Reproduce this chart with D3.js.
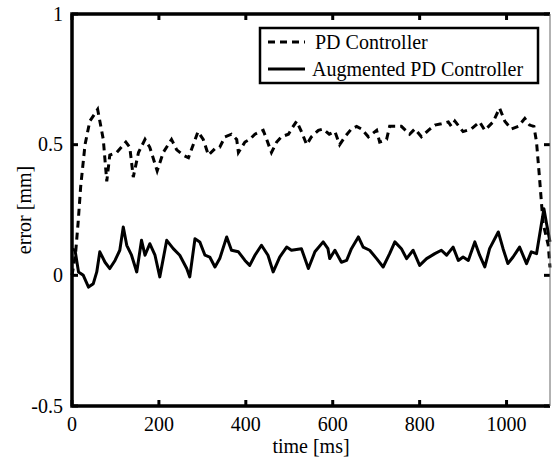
<!DOCTYPE html>
<html>
<head>
<meta charset="utf-8">
<script src="https://cdn.jsdelivr.net/npm/d3@7"></script>
<style>
  body { margin: 0; background: #fff; }
  text { font-family: "Liberation Serif", "Times New Roman", serif; fill: #000; }
</style>
</head>
<body>
<svg id="chart" width="552" height="461"></svg>
<script>
// [time ms, error mm]
const pdSeries = [
  [0, 0.0], [8, 0.08], [14, 0.2], [20, 0.34], [30, 0.5], [41, 0.59], [59, 0.635],
  [72, 0.52], [80, 0.36], [87, 0.46], [103, 0.47], [124, 0.51], [133, 0.49],
  [141, 0.376], [153, 0.47], [168, 0.52], [179, 0.49], [196, 0.40], [210, 0.47],
  [229, 0.52], [241, 0.48], [256, 0.46], [268, 0.45], [279, 0.50], [290, 0.55],
  [302, 0.52], [314, 0.46], [329, 0.485], [340, 0.49], [352, 0.53], [367, 0.54],
  [379, 0.52], [383, 0.47], [398, 0.51], [409, 0.52], [421, 0.54], [440, 0.555],
  [448, 0.52], [459, 0.47], [471, 0.51], [482, 0.53], [498, 0.54], [509, 0.57],
  [517, 0.59], [528, 0.55], [540, 0.50], [551, 0.53], [567, 0.555], [578, 0.56],
  [592, 0.54], [605, 0.55], [616, 0.50], [628, 0.53], [643, 0.56], [655, 0.57],
  [666, 0.56], [682, 0.53], [701, 0.555], [708, 0.51], [724, 0.52], [731, 0.57],
  [743, 0.57], [758, 0.57], [777, 0.54], [789, 0.56], [804, 0.53], [820, 0.555],
  [835, 0.575], [850, 0.58], [866, 0.587], [873, 0.57], [881, 0.59], [900, 0.55],
  [919, 0.56], [938, 0.587], [950, 0.555], [969, 0.587], [984, 0.64], [996, 0.59],
  [1011, 0.56], [1027, 0.57], [1042, 0.60], [1053, 0.575], [1063, 0.57],
  [1069, 0.51], [1076, 0.37], [1084, 0.20], [1096, 0.115], [1100, 0.03]
];

const augSeries = [
  [0, 0.1], [7, 0.096], [15, 0.013], [26, 0.0], [38, -0.045], [49, -0.032],
  [57, 0.013], [64, 0.09], [76, 0.05], [87, 0.026], [99, 0.057], [110, 0.096],
  [118, 0.185], [126, 0.115], [137, 0.077], [149, 0.013], [160, 0.134], [168, 0.077],
  [179, 0.121], [191, 0.077], [202, -0.006], [218, 0.134], [233, 0.102], [248, 0.077],
  [264, 0.026], [271, -0.006], [283, 0.14], [294, 0.128], [306, 0.077], [317, 0.07],
  [329, 0.032], [340, 0.064], [356, 0.147], [367, 0.096], [383, 0.09], [398, 0.057],
  [409, 0.038], [421, 0.077], [436, 0.115], [451, 0.077], [463, 0.013], [478, 0.07],
  [494, 0.108], [505, 0.096], [528, 0.102], [544, 0.026], [559, 0.09], [578, 0.128],
  [589, 0.102], [593, 0.064], [605, 0.096], [620, 0.05], [632, 0.057], [643, 0.102],
  [659, 0.147], [670, 0.108], [685, 0.096], [701, 0.064], [716, 0.032], [731, 0.083],
  [743, 0.128], [758, 0.102], [770, 0.064], [785, 0.096], [800, 0.038], [816, 0.064],
  [835, 0.083], [850, 0.096], [862, 0.077], [877, 0.108], [889, 0.057], [900, 0.07],
  [912, 0.057], [927, 0.128], [938, 0.077], [950, 0.032], [961, 0.102], [981, 0.166],
  [992, 0.102], [1003, 0.045], [1015, 0.07], [1030, 0.108], [1046, 0.045], [1057, 0.09],
  [1069, 0.083], [1086, 0.255], [1092, 0.198], [1100, 0.128]
];

const xTicks = [0, 200, 400, 600, 800, 1000];
const yTicks = [-0.5, 0, 0.5, 1];
const yTickLabels = ['-0.5', '0', '0.5', '1'];
const legendLabels = ['PD Controller', 'Augmented PD Controller'];

const svg = d3.select('#chart');
const plotLeft = 72, plotRight = 550, plotTop = 14, plotBottom = 406;

const x = d3.scaleLinear().domain([0, 1100]).range([plotLeft, plotRight]);
const y = d3.scaleLinear().domain([-0.5, 1]).range([plotBottom, plotTop]);

const line = d3.line()
  .x(d => x(d[0]))
  .y(d => y(d[1]));

// data lines
svg.append('path')
  .datum(pdSeries)
  .attr('d', line)
  .attr('fill', 'none')
  .attr('stroke', '#000')
  .attr('stroke-width', 3)
  .attr('stroke-dasharray', '7,5');

svg.append('path')
  .datum(augSeries)
  .attr('d', line)
  .attr('fill', 'none')
  .attr('stroke', '#000')
  .attr('stroke-width', 3)
  .attr('stroke-linejoin', 'round');

// ticks (inside the frame)
const tickLen = 6;
const ticks = svg.append('g').attr('stroke', '#000').attr('stroke-width', 3);
xTicks.forEach(t => {
  ticks.append('line').attr('x1', x(t)).attr('x2', x(t)).attr('y1', plotBottom).attr('y2', plotBottom - tickLen);
  ticks.append('line').attr('x1', x(t)).attr('x2', x(t)).attr('y1', plotTop).attr('y2', plotTop + tickLen);
});
yTicks.forEach(v => {
  ticks.append('line').attr('x1', plotLeft).attr('x2', plotLeft + tickLen).attr('y1', y(v)).attr('y2', y(v));
  ticks.append('line').attr('x1', plotRight).attr('x2', plotRight - tickLen).attr('y1', y(v)).attr('y2', y(v));
});

// frame: thick left/top/bottom, thin right
svg.append('path')
  .attr('d', `M${plotRight},${plotTop}H${plotLeft}V${plotBottom}H${plotRight}`)
  .attr('fill', 'none')
  .attr('stroke', '#000')
  .attr('stroke-width', 3.5);
svg.append('line')
  .attr('x1', plotRight).attr('x2', plotRight).attr('y1', plotTop).attr('y2', plotBottom)
  .attr('stroke', '#666').attr('stroke-width', 1);

// tick labels
svg.append('g')
  .selectAll('text')
  .data(xTicks)
  .join('text')
  .attr('x', d => x(d))
  .attr('y', plotBottom + 25)
  .attr('text-anchor', 'middle')
  .attr('font-size', 20)
  .text(d => d);

svg.append('g')
  .selectAll('text')
  .data(yTicks)
  .join('text')
  .attr('x', plotLeft - 9)
  .attr('y', d => y(d))
  .attr('dy', '0.33em')
  .attr('text-anchor', 'end')
  .attr('font-size', 20)
  .text((d, i) => yTickLabels[i]);

// axis titles
svg.append('text')
  .attr('x', (plotLeft + plotRight) / 2)
  .attr('y', 453)
  .attr('text-anchor', 'middle')
  .attr('font-size', 20)
  .text('time [ms]');

svg.append('text')
  .attr('transform', `translate(31,${(plotTop + plotBottom) / 2}) rotate(-90)`)
  .attr('text-anchor', 'middle')
  .attr('font-size', 20)
  .text('error [mm]');

// legend
const legend = svg.append('g');
legend.append('rect')
  .attr('x', 260).attr('y', 28)
  .attr('width', 278).attr('height', 55)
  .attr('fill', '#fff')
  .attr('stroke', '#000')
  .attr('stroke-width', 2.5);

legendLabels.forEach((label, i) => {
  const ly = 42 + i * 27;
  legend.append('line')
    .attr('x1', 268).attr('x2', 305)
    .attr('y1', ly).attr('y2', ly)
    .attr('stroke', '#000')
    .attr('stroke-width', 3)
    .attr('stroke-dasharray', i === 0 ? '7,5' : null);
  legend.append('text')
    .attr('x', i === 0 ? 315 : 312)
    .attr('y', ly)
    .attr('dy', '0.33em')
    .attr('font-size', 20)
    .text(label);
});
</script>
</body>
</html>
